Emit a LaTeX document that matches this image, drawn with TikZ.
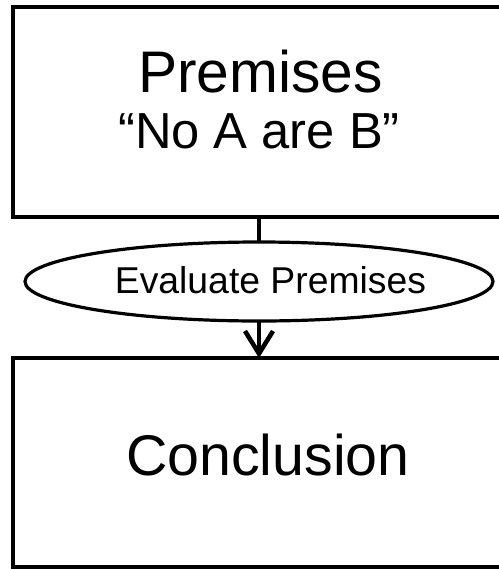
\documentclass[tikz,border=0pt]{standalone}
\usepackage{fontspec}
\setmainfont{Liberation Sans}
\usetikzlibrary{shapes.geometric,arrows.meta}

\tikzset{
  stagebox/.style={draw, line width=3pt, rectangle, inner sep=0pt, outer sep=0pt,
    minimum width=369pt, minimum height=157.5pt},
  evalshape/.style={draw, line width=2.4pt, ellipse, inner sep=0pt, outer sep=0pt,
    minimum width=351pt, minimum height=59.25pt},
  link/.style={line width=3.4pt}
}

\begin{document}
\begin{tikzpicture}[x=0.75pt, y=-0.75pt]
    \useasboundingbox (0,0) rectangle (499,569);
    \clip (0,0) rectangle (499,569);

    \node [stagebox] (premises) at (259,112) {};
    \node [anchor=base, font=\fontsize{44}{50}\selectfont] (premtitle) at (260.5,92) {Premises};
    \node [anchor=base, font=\fontsize{38}{44}\selectfont] (premtext) at (259,148) {“No A are B”};

    \node [evalshape] (evaluate) at (259,281.5) {};
    \node [anchor=base, font=\fontsize{28}{32}\selectfont] (evaltext) at (270.5,293) {Evaluate Premises};

    \node [stagebox, minimum height=156.75pt] (conclusion) at (259,462.5) {};
    \node [anchor=base, font=\fontsize{43}{50}\selectfont] (concltext) at (268,475) {Conclusion};

    \draw [link] (premises.south) -- (evaluate.north);
    \draw [link, -{Straight Barb[length=17pt, width=21pt]}] (evaluate.south) -- (conclusion.north);
  \end{tikzpicture}
\end{document}
